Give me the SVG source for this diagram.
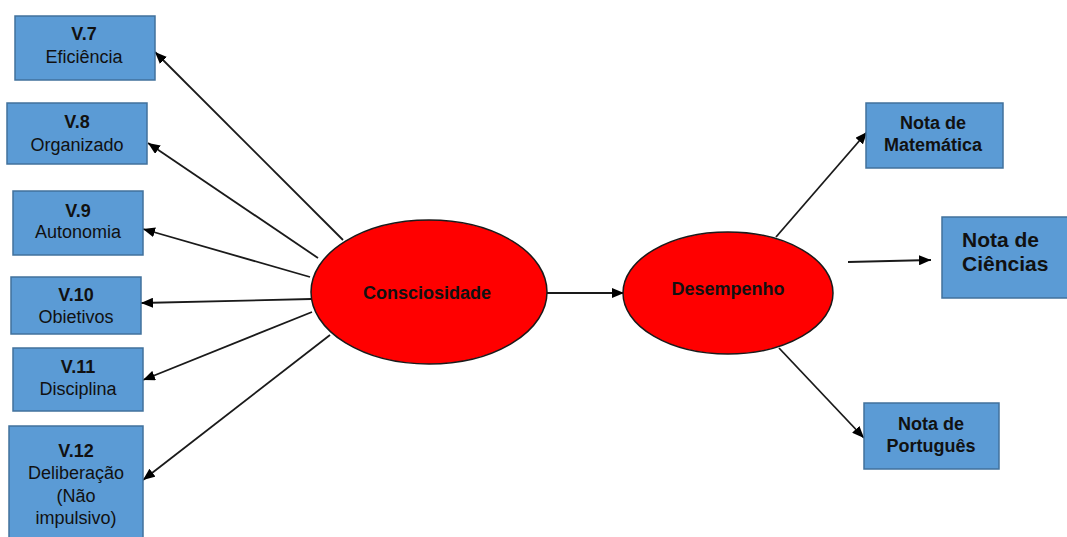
<svg xmlns="http://www.w3.org/2000/svg" width="1067" height="537" viewBox="0 0 1067 537">
<style>
.box{fill:#5b9bd5;stroke:#41719c;stroke-width:1.5}
.ell{fill:#ff0000;stroke:#1a1a1a;stroke-width:1.5}
.t{font-family:"Liberation Sans",Arial,sans-serif;font-size:18px;fill:#111;text-anchor:middle}
.b{font-weight:bold}
.c{stroke:#1a1a1a;stroke-width:1.8;fill:none;marker-end:url(#ah)}
</style>
<defs>
<marker id="ah" viewBox="0 0 12 10" refX="12" refY="5" markerWidth="12" markerHeight="10" markerUnits="userSpaceOnUse" orient="auto">
<path d="M0,0 L12,5 L0,10 z" fill="#000"/>
</marker>
</defs>
<rect width="1067" height="537" fill="#fff"/>
<g id="connectors">
<line class="c" x1="343" y1="240" x2="155" y2="52"/>
<line class="c" x1="318" y1="258" x2="148" y2="143"/>
<line class="c" x1="310" y1="277" x2="143" y2="229"/>
<line class="c" x1="311" y1="299" x2="141" y2="303"/>
<line class="c" x1="312" y1="312" x2="143" y2="380"/>
<line class="c" x1="330" y1="335" x2="143" y2="480"/>
<line class="c" x1="547" y1="293" x2="624" y2="293"/>
<line class="c" x1="776" y1="237" x2="867" y2="132"/>
<line class="c" x1="848" y1="262" x2="931" y2="260"/>
<line class="c" x1="779" y1="348" x2="864" y2="438"/>
</g>
<g id="v7"><rect class="box" x="15" y="16" width="140" height="64"/><text class="t b" x="84" y="40">V.7</text><text class="t" x="84" y="63">Eficiência</text></g>
<g id="v8"><rect class="box" x="7" y="103" width="140" height="61"/><text class="t b" x="77" y="128">V.8</text><text class="t" x="77" y="151">Organizado</text></g>
<g id="v9"><rect class="box" x="13" y="191" width="130" height="64"/><text class="t b" x="78" y="217">V.9</text><text class="t" x="78" y="238">Autonomia</text></g>
<g id="v10"><rect class="box" x="11" y="277" width="130" height="57"/><text class="t b" x="76" y="301">V.10</text><text class="t" x="76" y="323">Obietivos</text></g>
<g id="v11"><rect class="box" x="13" y="348" width="130" height="63"/><text class="t b" x="78" y="373">V.11</text><text class="t" x="78" y="395">Disciplina</text></g>
<g id="v12"><rect class="box" x="9" y="426" width="134" height="116"/><text class="t b" x="76" y="457">V.12</text><text class="t" x="76" y="479">Deliberação</text><text class="t" x="76" y="502">(Não</text><text class="t" x="76" y="524">impulsivo)</text></g>
<g id="consciosidade"><ellipse class="ell" cx="429" cy="292" rx="118" ry="72"/><text class="t b" x="427" y="299">Consciosidade</text></g>
<g id="desempenho"><ellipse class="ell" cx="728" cy="293" rx="105" ry="61"/><text class="t b" x="728" y="295">Desempenho</text></g>
<g id="matematica"><rect class="box" x="866" y="103" width="137" height="65"/><text class="t b" x="933" y="129">Nota de</text><text class="t b" x="933" y="151">Matemática</text></g>
<g id="ciencias"><rect class="box" x="942" y="217" width="126" height="81"/><text class="t b" x="962" y="247" style="text-anchor:start;font-size:21px">Nota de</text><text class="t b" x="962" y="271" style="text-anchor:start;font-size:21px">Ciências</text></g>
<g id="portugues"><rect class="box" x="864" y="403" width="135" height="66"/><text class="t b" x="931" y="430">Nota de</text><text class="t b" x="931" y="452">Português</text></g>
</svg>
